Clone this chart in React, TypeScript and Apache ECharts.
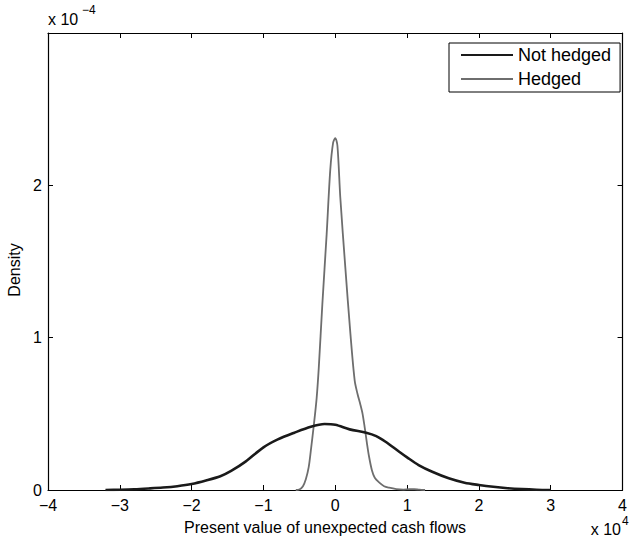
import React, { useEffect, useRef } from "react";
import * as echarts from "echarts";

// x in units of 10^4, density in units of 10^-4
const notHedgedX = [-3.2, -3.0, -2.8, -2.6, -2.4, -2.2, -2.0, -1.8, -1.6, -1.45, -1.25, -1.0, -0.8, -0.57, -0.34, -0.15, 0, 0.2, 0.43, 0.57, 0.7, 0.89, 1.0, 1.16, 1.35, 1.58, 1.8, 2.0, 2.2, 2.4, 2.6, 2.8, 3.0];
const notHedgedY = [0, 0.002, 0.005, 0.01, 0.016, 0.025, 0.039, 0.062, 0.09, 0.125, 0.186, 0.28, 0.332, 0.376, 0.415, 0.433, 0.428, 0.398, 0.376, 0.354, 0.317, 0.251, 0.214, 0.164, 0.12, 0.077, 0.048, 0.033, 0.021, 0.012, 0.006, 0.002, 0];

const hedgedX = [-0.55, -0.5, -0.45, -0.41, -0.37, -0.34, -0.3, -0.26, -0.23, -0.18, -0.12, -0.07, -0.03, 0, 0.03, 0.07, 0.14, 0.21, 0.27, 0.31, 0.35, 0.38, 0.41, 0.44, 0.47, 0.51, 0.55, 0.61, 0.68, 0.75, 0.85, 0.95, 1.03, 1.1, 1.17, 1.25];
const hedgedY = [0, 0.003, 0.025, 0.07, 0.15, 0.26, 0.42, 0.6, 0.8, 1.22, 1.68, 2.1, 2.28, 2.31, 2.26, 1.92, 1.46, 1.03, 0.72, 0.63, 0.56, 0.5, 0.41, 0.31, 0.22, 0.13, 0.08, 0.05, 0.025, 0.015, 0.006, 0.003, 0.005, 0.005, 0.002, 0];

const seriesNames = ["Not hedged", "Hedged"];
const xLabel = "Present value of unexpected cash flows";
const yLabel = "Density";

const FONT = "'Liberation Sans', Arial, Helvetica, sans-serif";

export default function App() {
  const ref = useRef<HTMLDivElement>(null);
  useEffect(() => {
    if (!ref.current) return;
    const chart = echarts.init(ref.current, null, { renderer: "svg" });
    const axisLine = { onZero: false, lineStyle: { color: "#000", width: 1.2 } };
    const axisTick = { inside: true, length: 5, lineStyle: { color: "#000", width: 1 } };
    const fmt = (v: number) => String(v).replace("-", "\u2212");
    const xBase = {
      type: "value" as const,
      min: -4,
      max: 4,
      interval: 1,
      axisLine,
      axisTick,
      splitLine: { show: false },
    };
    const yBase = {
      type: "value" as const,
      min: 0,
      max: 3,
      interval: 1,
      axisLine,
      axisTick,
      splitLine: { show: false },
    };
    chart.setOption({
      animation: false,
      backgroundColor: "#fff",
      textStyle: { fontFamily: FONT },
      grid: { left: 48, right: 2, top: 33, bottom: 55, containLabel: false },
      xAxis: [
        {
          ...xBase,
          position: "bottom",
          axisLabel: { fontSize: 16, color: "#000", margin: 7, fontFamily: FONT, formatter: fmt },
        },
        { ...xBase, position: "top", axisLabel: { show: false } },
      ],
      yAxis: [
        {
          ...yBase,
          position: "left",
          axisLabel: {
            fontSize: 16,
            color: "#000",
            margin: 6,
            fontFamily: FONT,
            formatter: (v: number) => (v >= 3 ? "" : fmt(v)),
          },
        },
        { ...yBase, position: "right", axisLabel: { show: false } },
      ],
      legend: {
        orient: "vertical",
        left: 449,
        top: 43,
        data: seriesNames,
        borderColor: "#000",
        borderWidth: 1,
        borderRadius: 0,
        backgroundColor: "#fff",
        padding: [2, 9, 3, 11],
        itemGap: 4,
        itemWidth: 52,
        itemHeight: 20,
        itemStyle: { opacity: 0 },
        textStyle: { fontSize: 18, color: "#000", fontFamily: FONT, lineHeight: 20 },
      },
      series: [
        {
          name: seriesNames[0],
          type: "line",
          data: notHedgedX.map((x, i) => [x, notHedgedY[i]]),
          smooth: 0.3,
          symbol: "none",
          showSymbol: false,
          lineStyle: { color: "#1a1a1a", width: 2.6 },
          itemStyle: { color: "#1a1a1a" },
          z: 3,
        },
        {
          name: seriesNames[1],
          type: "line",
          data: hedgedX.map((x, i) => [x, hedgedY[i]]),
          smooth: 0.3,
          symbol: "none",
          showSymbol: false,
          lineStyle: { color: "#6e6e6e", width: 1.8 },
          itemStyle: { color: "#6e6e6e" },
          z: 2,
        },
      ],
      graphic: [
        {
          type: "text",
          left: 48,
          top: 11,
          style: { text: "x 10", font: `16px ${FONT}`, fill: "#000" },
        },
        {
          type: "text",
          left: 82,
          top: 4,
          style: { text: "\u22124", font: `12px ${FONT}`, fill: "#000" },
        },
        {
          type: "text",
          x: 325,
          y: 527,
          style: { text: xLabel, font: `16px ${FONT}`, fill: "#000", align: "center", verticalAlign: "middle" },
        },
        {
          type: "text",
          x: 14,
          y: 270,
          rotation: Math.PI / 2,
          style: { text: yLabel, font: `16px ${FONT}`, fill: "#000", align: "center", verticalAlign: "middle" },
        },
        {
          type: "text",
          x: 621,
          y: 529,
          style: { text: "x 10", font: `16px ${FONT}`, fill: "#000", align: "right", verticalAlign: "middle" },
        },
        {
          type: "text",
          x: 622,
          y: 521,
          style: { text: "4", font: `12px ${FONT}`, fill: "#000", align: "left", verticalAlign: "middle" },
        },
      ],
    });
    return () => chart.dispose();
  }, []);
  return <div ref={ref} style={{ width: 630, height: 545, position: "absolute", left: 0, top: 0 }} />;
}
